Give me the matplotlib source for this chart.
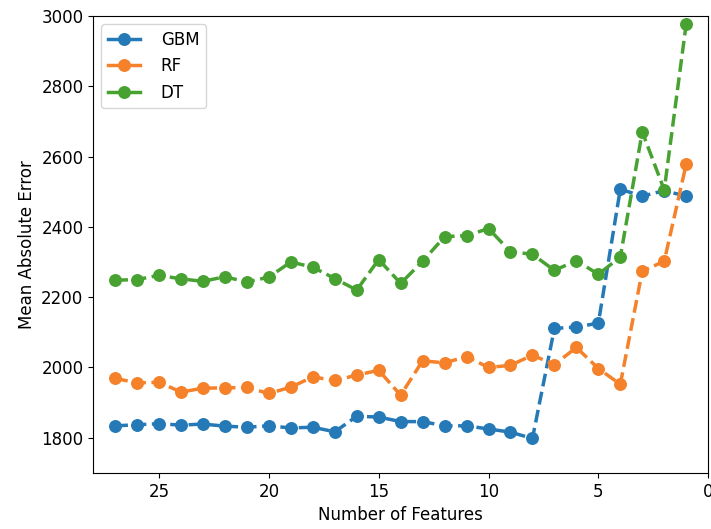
import matplotlib
matplotlib.use('Agg')
from matplotlib import pyplot as plt
from matplotlib.lines import Line2D

# number of features kept, from 27 down to 1
n_features = list(range(27, 0, -1))

gbm = [1834, 1837, 1840, 1836, 1839, 1833, 1830, 1834, 1828, 1830, 1817, 1861, 1859, 1846,
       1846, 1834, 1834, 1825, 1816, 1798, 2111, 2115, 2126, 2507, 2487, 2503, 2487]
rf = [1969, 1956, 1958, 1930, 1941, 1942, 1943, 1926, 1944, 1973, 1963, 1978, 1992, 1921,
      2019, 2013, 2031, 2000, 2006, 2035, 2008, 2057, 1997, 1952, 2274, 2302, 2578]
dt = [2248, 2250, 2262, 2252, 2245, 2258, 2243, 2257, 2300, 2285, 2253, 2220, 2307, 2239,
      2302, 2372, 2375, 2395, 2329, 2322, 2276, 2304, 2265, 2314, 2670, 2505, 2977]

series = [('GBM', gbm, '#2479b6'), ('RF', rf, '#f5812a'), ('DT', dt, '#47a232')]

plt.rcParams['font.size'] = 12
fig = plt.figure(figsize=(7.11, 5.29), dpi=100)
ax = fig.add_axes([0.131, 0.106, 0.865, 0.864])

handles = []
for name, vals, col in series:
    ax.plot(n_features, vals, 'o--', color=col, lw=2.5, ms=8.3)
    handles.append(Line2D([], [], color=col, lw=2.5, marker='o', ms=8.3, label=name))

ax.set_xlim(28, 0)
ax.set_ylim(1700, 3000)
ax.set_xticks([25, 20, 15, 10, 5, 0])
ax.set_yticks([1800, 2000, 2200, 2400, 2600, 2800, 3000])
ax.set_xlabel('Number of Features')
ax.set_ylabel('Mean Absolute Error')
ax.legend(handles=handles, loc='upper left', fontsize=12, handlelength=1.9,
          handletextpad=1.25)

fig.savefig('out.png', dpi=100)
